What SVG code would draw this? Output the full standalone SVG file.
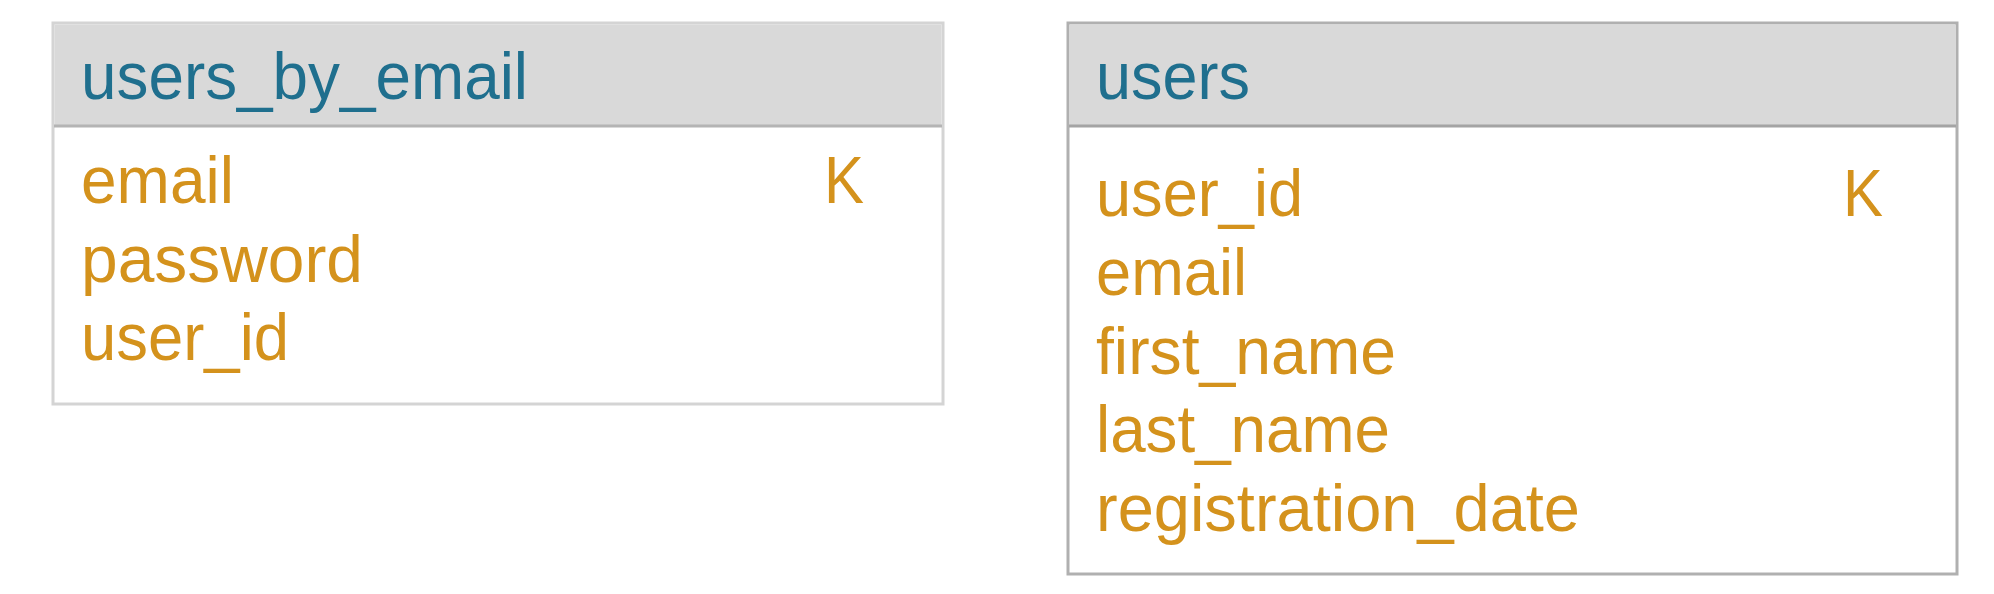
<svg xmlns="http://www.w3.org/2000/svg" width="1994" height="594" viewBox="0 0 1994 594">
<style>
.hdr{fill:#d9d9d9}
.body{fill:#ffffff}
.title{font-family:"Liberation Sans",Arial,sans-serif;font-size:66px;fill:#1f6f8e}
.col{font-family:"Liberation Sans",Arial,sans-serif;font-size:66px;fill:#d4921c}
</style>
<rect width="1994" height="594" fill="#ffffff"/>
<g id="users_by_email">
<rect x="53" y="23" width="890" height="381" class="body" stroke="#d4d4d4" stroke-width="3"/>
<rect x="54.5" y="24.5" width="887" height="101" class="hdr"/>
<line x1="54" y1="126" x2="942" y2="126" stroke="#b4b4b4" stroke-width="3"/>
<text x="81" y="99" class="title" textLength="447" lengthAdjust="spacingAndGlyphs">users_by_email</text>
<text x="81" y="203" class="col" textLength="153" lengthAdjust="spacingAndGlyphs">email</text>
<text x="824" y="203" class="col" textLength="40" lengthAdjust="spacingAndGlyphs">K</text>
<text x="81" y="282" class="col" textLength="282" lengthAdjust="spacingAndGlyphs">password</text>
<text x="81" y="360" class="col" textLength="208" lengthAdjust="spacingAndGlyphs">user_id</text>
</g>
<g id="users">
<rect x="1068" y="23" width="889" height="551" class="body" stroke="#b0b0b0" stroke-width="3"/>
<rect x="1069.5" y="24.5" width="886" height="101" class="hdr"/>
<line x1="1069" y1="126" x2="1956" y2="126" stroke="#a4a4a4" stroke-width="3"/>
<text x="1096" y="99" class="title" textLength="154" lengthAdjust="spacingAndGlyphs">users</text>
<text x="1096" y="216" class="col" textLength="207" lengthAdjust="spacingAndGlyphs">user_id</text>
<text x="1843" y="216" class="col" textLength="40" lengthAdjust="spacingAndGlyphs">K</text>
<text x="1096" y="295" class="col" textLength="151" lengthAdjust="spacingAndGlyphs">email</text>
<text x="1096" y="374" class="col" textLength="300" lengthAdjust="spacingAndGlyphs">first_name</text>
<text x="1096" y="452" class="col" textLength="294" lengthAdjust="spacingAndGlyphs">last_name</text>
<text x="1096" y="531" class="col" textLength="484" lengthAdjust="spacingAndGlyphs">registration_date</text>
</g>
<g id="connectors"></g>
</svg>
